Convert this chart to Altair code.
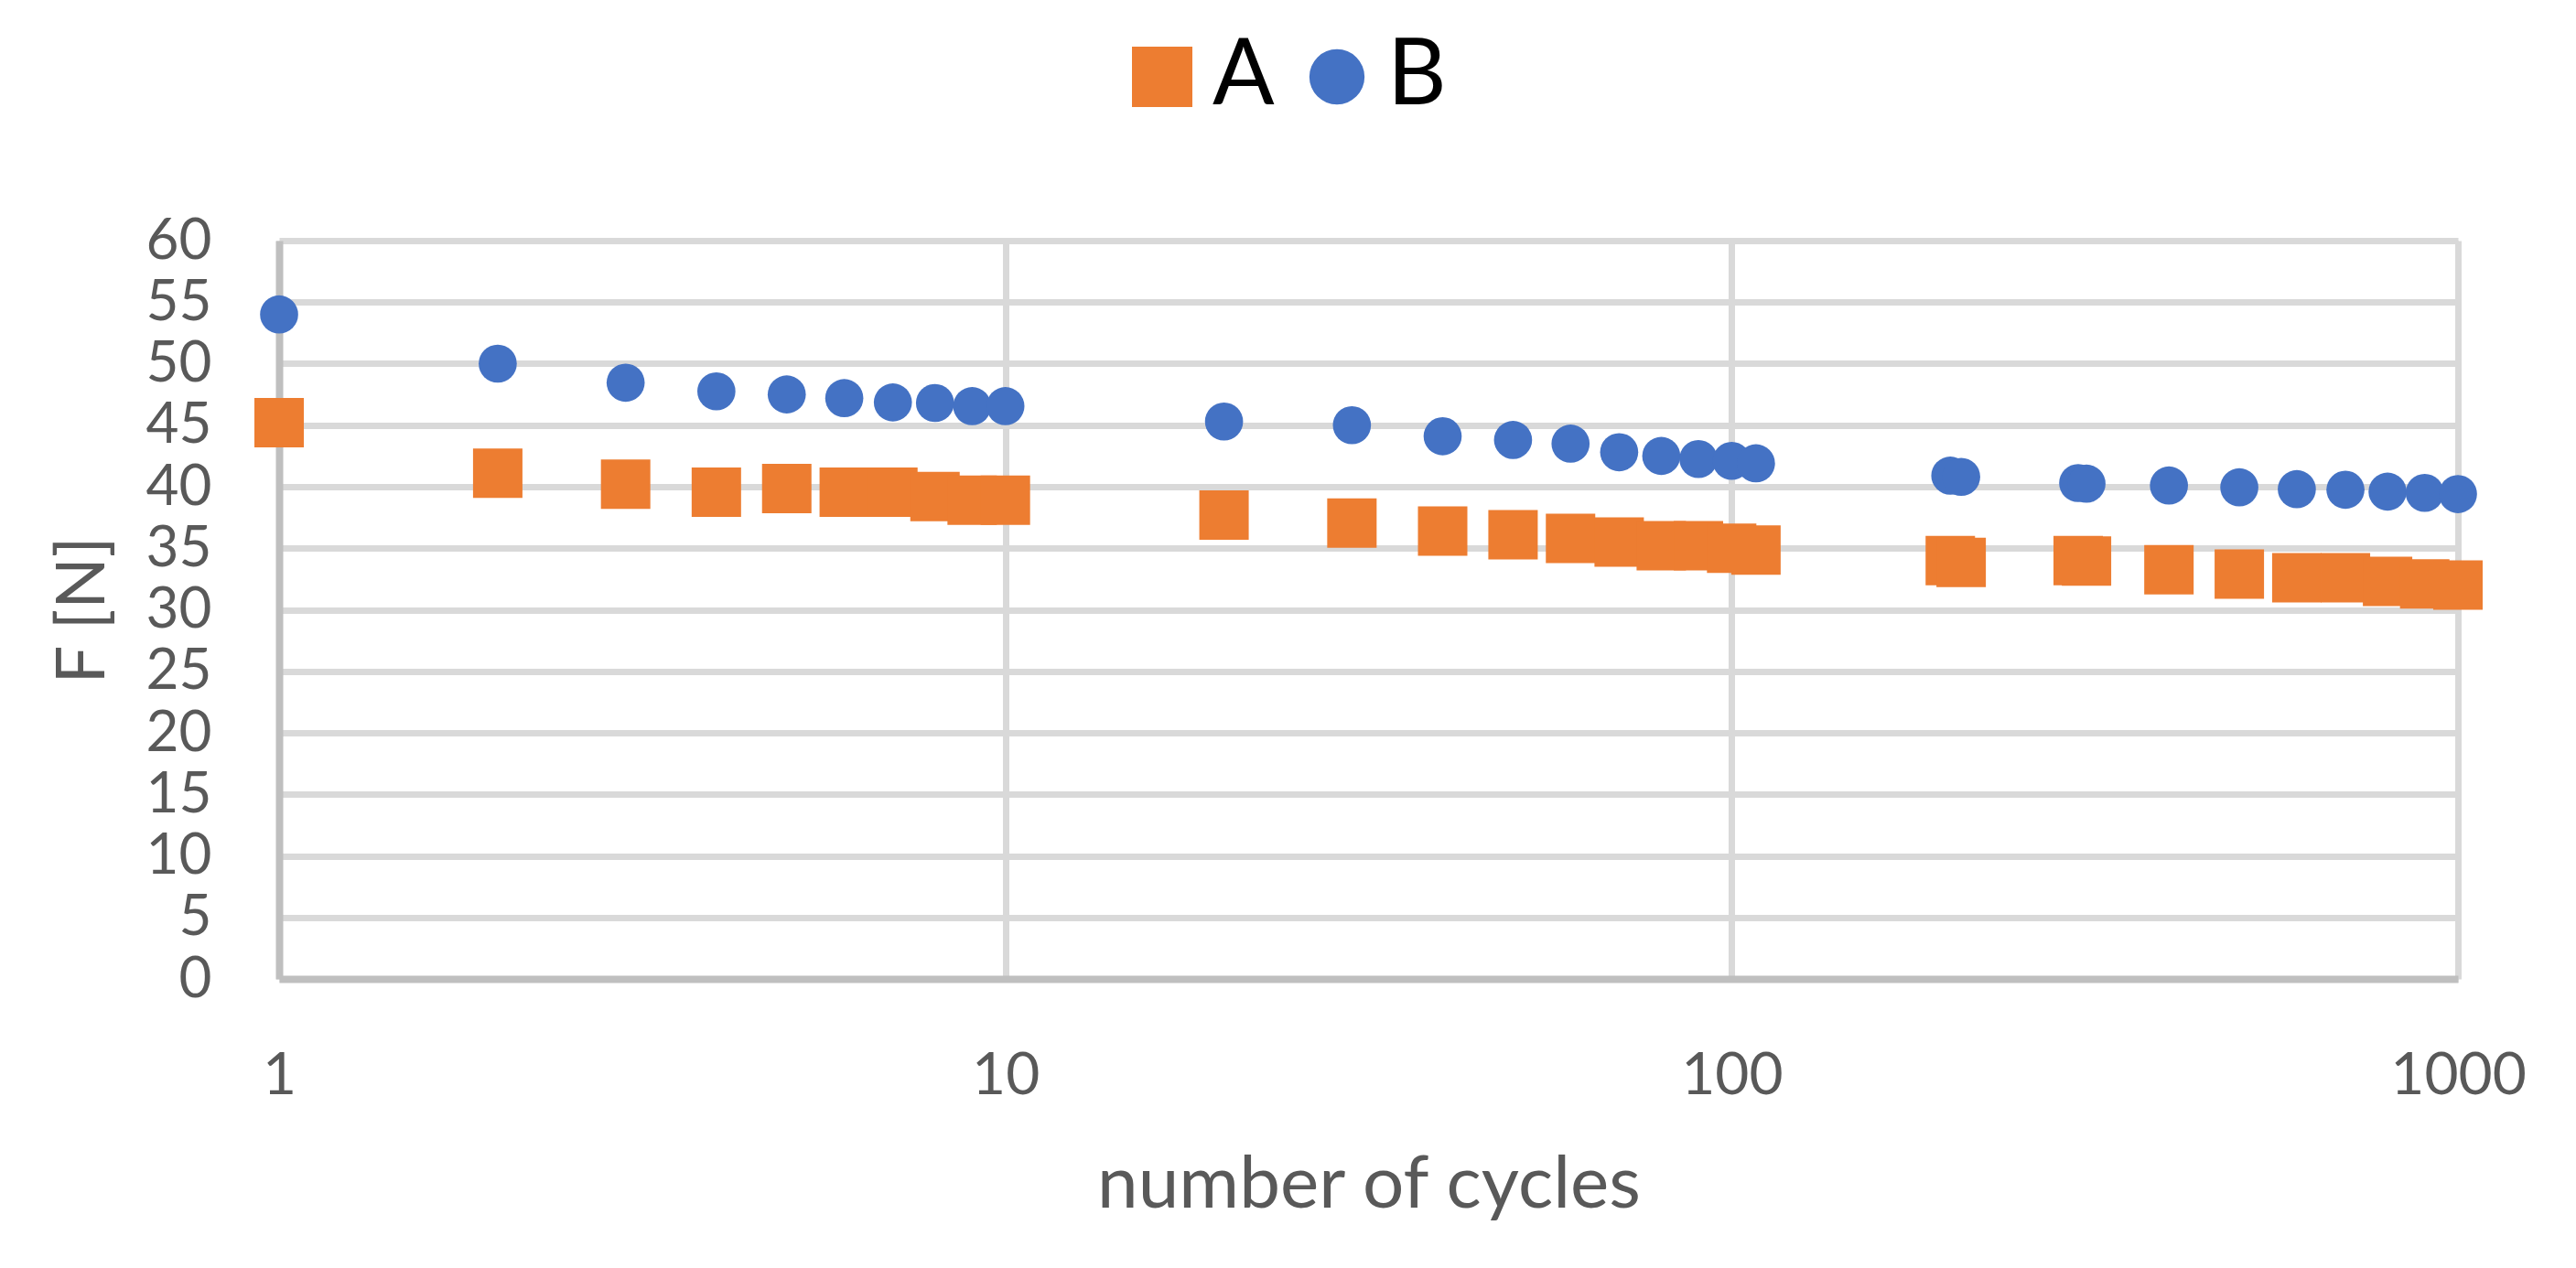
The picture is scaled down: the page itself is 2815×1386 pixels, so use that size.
import altair as alt
import pandas as pd

cycles = [1, 2, 3, 4, 5, 6, 7, 8, 9, 10,
          20, 30, 40, 50, 60, 70, 80, 90, 100, 108,
          200, 207, 300, 308, 400, 500, 600, 700, 800, 900, 1000]
F_A = [45.2, 41.1, 40.2, 39.55, 39.85, 39.55, 39.55, 39.2, 38.9, 38.9,
       37.7, 37.05, 36.4, 36.1, 35.8, 35.5, 35.2, 35.2, 35.0, 34.85,
       34.0, 33.85, 34.0, 33.95, 33.25, 32.9, 32.6, 32.6, 32.3, 32.1, 32.0]
F_B = [54.0, 50.0, 48.45, 47.75, 47.5, 47.2, 46.85, 46.8, 46.55, 46.55,
       45.3, 45.0, 44.1, 43.8, 43.5, 42.8, 42.5, 42.25, 42.1, 41.9,
       40.9, 40.8, 40.3, 40.25, 40.1, 39.95, 39.8, 39.75, 39.6, 39.5, 39.4]
series_names = ["A", "B"]
series_colors = ["#ED7D31", "#4472C4"]
series_shapes = ["square", "circle"]
legend_sizes = [4356, 3640]      # legend symbols
marker_size_A = 2916             # square 54 px
marker_size_B = 1735             # circle 47 px
x_ticks = [1, 10, 100, 1000]
y_ticks = list(range(0, 61, 5))

df = pd.concat([
    pd.DataFrame({"cycles": cycles, "F": F_A, "series": "A"}),
    pd.DataFrame({"cycles": cycles, "F": F_B, "series": "B"}),
])

FONT = "Lato"
GRAY = "#595959"

x_enc = alt.X("cycles:Q",
              scale=alt.Scale(type="log", domain=[1, 1000], nice=False),
              axis=alt.Axis(values=x_ticks, format="d", title="number of cycles",
                            grid=True, gridColor="#D9D9D9", gridWidth=7,
                            domainColor="#BFBFBF", domainWidth=8,
                            ticks=False, tickSize=0,
                            labelFont=FONT, labelFontSize=64, labelColor=GRAY,
                            labelPadding=74, labelFlush=False,
                            titleFont=FONT, titleFontSize=80, titleColor=GRAY,
                            titleFontWeight="normal", titlePadding=48, zindex=0))
y_enc = alt.Y("F:Q",
              scale=alt.Scale(domain=[0, 60], nice=False),
              axis=alt.Axis(values=y_ticks, title="F [N]",
                            grid=True, gridColor="#D9D9D9", gridWidth=7,
                            domainColor="#BFBFBF", domainWidth=8,
                            ticks=False, tickSize=0,
                            labelFont=FONT, labelFontSize=62, labelColor=GRAY,
                            labelPadding=74,
                            titleFont=FONT, titleFontSize=74, titleColor=GRAY,
                            titleFontWeight="normal", titlePadding=30, zindex=0))
color_enc = alt.Color("series:N",
                      scale=alt.Scale(domain=series_names, range=series_colors),
                      legend=alt.Legend(title=None, orient="none", direction="horizontal",
                                        legendX=915, legendY=-229,
                                        labelFont=FONT, labelFontSize=100,
                                        labelColor="#000000",
                                        symbolStrokeWidth=0,
                                        labelOffset=5, columnPadding=18, padding=0))
shape_enc = alt.Shape("series:N",
                      scale=alt.Scale(domain=series_names, range=series_shapes))

base = alt.Chart(df)

# carries the legend only (no rows drawn)
legend_layer = base.transform_filter("false").mark_point(
    filled=True, opacity=1, strokeWidth=0
).encode(
    x=x_enc, y=y_enc, color=color_enc, shape=shape_enc,
    size=alt.Size("series:N",
                  scale=alt.Scale(type="ordinal", domain=series_names,
                                  range=legend_sizes)),
)

points = base.mark_point(filled=True, opacity=1, strokeWidth=0).encode(
    x=x_enc, y=y_enc, color=color_enc, shape=shape_enc,
    size=alt.condition("datum.series === 'A'",
                       alt.value(marker_size_A), alt.value(marker_size_B)),
)

chart = alt.layer(legend_layer, points).properties(
    width=2381, height=807,
    autosize=alt.AutoSizeParams(type="none"),
    padding={"left": 297, "top": 255, "right": 121, "bottom": 308},
).configure_view(stroke="transparent").configure(background="white")

chart.save("out.html", embed_options={"renderer": "svg", "actions": False})
